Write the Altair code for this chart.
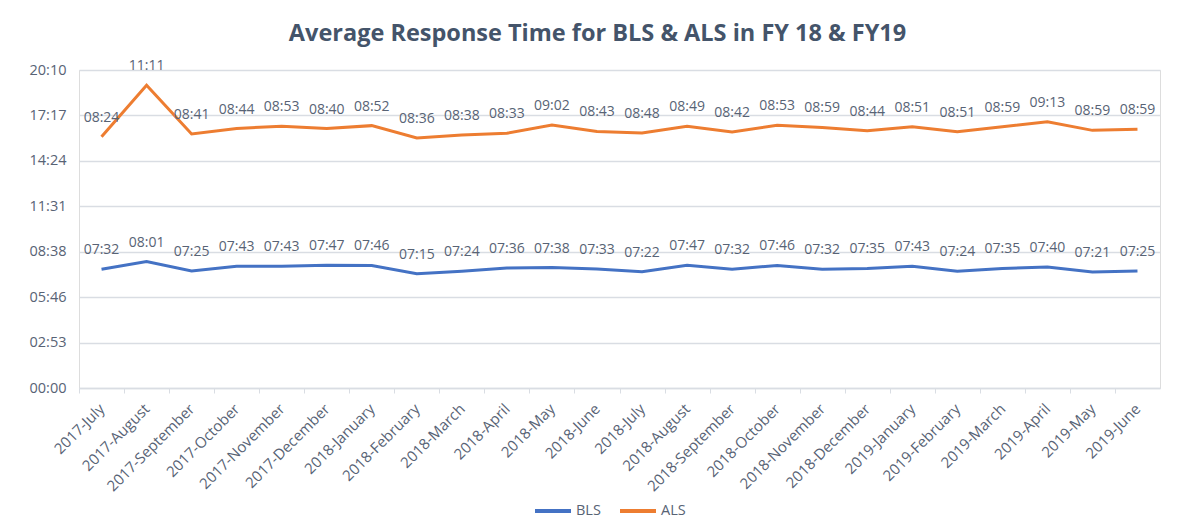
import altair as alt
import pandas as pd

months = ["2017-July", "2017-August", "2017-September", "2017-October", "2017-November",
          "2017-December", "2018-January", "2018-February", "2018-March", "2018-April",
          "2018-May", "2018-June", "2018-July", "2018-August", "2018-September",
          "2018-October", "2018-November", "2018-December", "2019-January", "2019-February",
          "2019-March", "2019-April", "2019-May", "2019-June"]

bls = ["07:32", "08:01", "07:25", "07:43", "07:43", "07:47", "07:46", "07:15", "07:24", "07:36",
       "07:38", "07:33", "07:22", "07:47", "07:32", "07:46", "07:32", "07:35", "07:43", "07:24",
       "07:35", "07:40", "07:21", "07:25"]

als = ["08:24", "11:11", "08:41", "08:44", "08:53", "08:40", "08:52", "08:36", "08:38", "08:33",
       "09:02", "08:43", "08:48", "08:49", "08:42", "08:53", "08:59", "08:44", "08:51", "08:51",
       "08:59", "09:13", "08:59", "08:59"]

y_ticks = [0, 172.8, 345.6, 518.4, 691.2, 864.0, 1036.8, 1209.6]

series_names = ["BLS", "ALS"]
series_colors = ["#4472C4", "#ED7D31"]


def secs(s):
    m, sec = s.split(":")
    return int(m) * 60 + int(sec)


rows = []
for i, m in enumerate(months):
    b = secs(bls[i])
    a = secs(als[i])
    rows.append({"month": m, "series": "BLS", "y": b, "label": bls[i]})
    rows.append({"month": m, "series": "ALS", "y": b + a, "label": als[i]})
df = pd.DataFrame(rows)

FONT = "Open Sans"
TXT = "#586375"

x_enc = alt.X("month:N", sort=months,
              scale=alt.Scale(type="point", padding=0.5),
              axis=alt.Axis(title=None, labelAngle=-45, labelAlign="right", labelBaseline="middle",
                            labelFontSize=15, labelFont=FONT, labelColor=TXT,
                            tickOffset=-22.5, labelOffset=22.5, tickSize=5,
                            tickColor="#D9DDE3", domainColor="#D9DDE3", domainWidth=1.5,
                            labelPadding=13, grid=False))

y_enc = alt.Y("y:Q",
              scale=alt.Scale(domain=[0, 1209.6], nice=False, zero=True),
              axis=alt.Axis(title=None, values=y_ticks, ticks=False, domain=False,
                            labelExpr="format(floor(round(datum.value)/60),'02d') + ':' + format(round(datum.value)%60,'02d')",
                            labelFontSize=14.5, labelFont=FONT, labelColor=TXT, labelPadding=13,
                            grid=True, gridColor="#D9DDE3", gridWidth=1.5))

color_enc = alt.Color("series:N",
                      scale=alt.Scale(domain=series_names, range=series_colors),
                      legend=alt.Legend(title=None, orient="none", direction="horizontal",
                                        legendX=454, legendY=421,
                                        symbolType="stroke", symbolSize=1296, symbolStrokeWidth=4,
                                        labelFontSize=14.5, labelFont=FONT, labelColor=TXT,
                                        labelOffset=3, columnPadding=11))

lines = alt.Chart(df).mark_line(strokeWidth=3).encode(
    x=x_enc, y=y_enc, color=color_enc, detail="series:N")

labels = alt.Chart(df).mark_text(font=FONT, fontSize=14, color=TXT, baseline="middle", dy=-19).encode(
    x=alt.X("month:N", sort=months), y="y:Q", text="label:N")

chart = alt.layer(lines, labels).properties(
    width=1081, height=318,
    autosize=alt.AutoSizeParams(type="none"),
    padding={"left": 71, "top": 62, "right": 16, "bottom": 130},
    title=alt.Title("Average Response Time for BLS & ALS in FY 18 & FY19",
                    font=FONT, fontSize=23.5, fontWeight="bold", color="#44546A",
                    anchor="middle", dx=-22, offset=14),
).configure_view(stroke=None).configure(background="white")

chart.save("out.html", embed_options={"renderer": "svg", "actions": False})
